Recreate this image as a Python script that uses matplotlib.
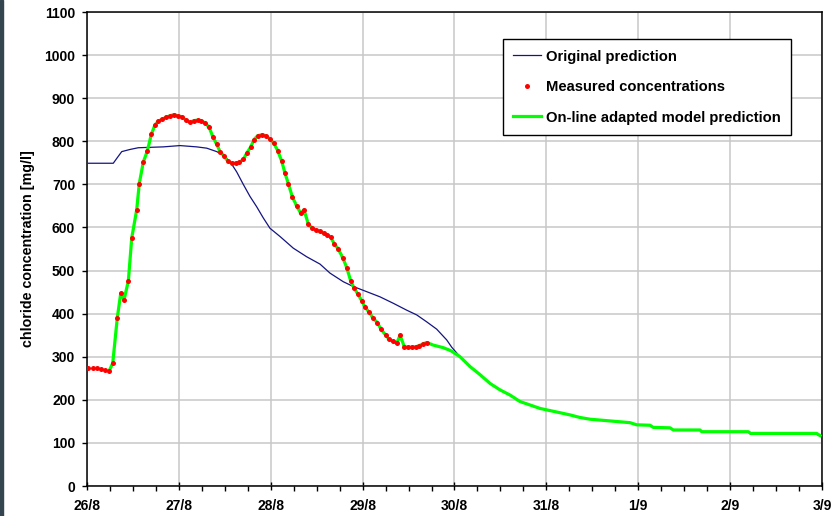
import matplotlib
matplotlib.use('Agg')
import matplotlib.pyplot as plt
from matplotlib.patches import Rectangle
import numpy as np

plt.rcParams['font.family'] = ['Liberation Sans', 'DejaVu Sans']
plt.rcParams['font.weight'] = 'bold'

# time in days since 26/8 00:00
meas_t = [0.014, 0.062, 0.106, 0.149, 0.196, 0.243, 0.280, 0.330, 0.367, 0.403,
          0.450, 0.487, 0.541, 0.569, 0.613, 0.656, 0.700, 0.740, 0.776, 0.820,
          0.860, 0.903, 0.947, 0.987, 1.031, 1.078, 1.121, 1.165, 1.205, 1.238,
          1.284, 1.331, 1.368, 1.412, 1.448, 1.491, 1.531, 1.575, 1.622, 1.658,
          1.701, 1.738, 1.782, 1.818, 1.858, 1.902, 1.948, 1.992, 2.035, 2.076,
          2.119, 2.155, 2.191, 2.235, 2.282, 2.326, 2.362, 2.410, 2.450, 2.494,
          2.537, 2.580, 2.616, 2.653, 2.692, 2.735, 2.783, 2.827, 2.870, 2.906,
          2.946, 2.990, 3.026, 3.073, 3.116, 3.160, 3.200, 3.251, 3.287, 3.327,
          3.371, 3.407, 3.454, 3.497, 3.541, 3.581, 3.617, 3.660, 3.697]
meas_c = [275, 275, 275, 272, 270, 268, 285, 391, 447, 432,
          476, 576, 641, 702, 752, 777, 816, 838, 847, 851,
          856, 859, 862, 859, 857, 849, 844, 848, 849, 848,
          843, 832, 811, 793, 776, 766, 754, 749, 749, 751,
          758, 772, 787, 804, 813, 815, 813, 805, 795, 778,
          754, 726, 702, 671, 650, 633, 641, 607, 599, 594,
          591, 586, 583, 577, 562, 550, 530, 507, 476, 460,
          446, 430, 415, 403, 389, 379, 364, 350, 341, 336,
          331, 350, 323, 322, 322, 323, 326, 330, 333]

# on-line adapted model: follows measurements, then forecast tail
tail_t = [3.769, 3.878, 3.960, 4.060, 4.170, 4.280, 4.387, 4.496, 4.605, 4.713,
          4.822, 4.931, 5.040, 5.150, 5.257, 5.366, 5.475, 5.584, 5.693, 5.801,
          5.910, 5.983, 6.128, 6.164, 6.346, 6.381, 6.672, 6.691, 7.198, 7.224,
          7.942, 7.978]
tail_c = [327, 321, 314, 300, 277, 258, 238, 223, 211, 196,
          188, 180, 175, 170, 165, 159, 155, 153, 151, 149,
          147, 142, 141, 136, 135, 130, 130, 126, 126, 122,
          122, 117]
adapt_t = meas_t[5:] + tail_t
adapt_c = meas_c[5:] + tail_c

orig_t = [0.014, 0.286, 0.323, 0.378, 0.468, 0.558, 0.830, 1.012, 1.194, 1.303,
          1.412, 1.484, 1.556, 1.629, 1.701, 1.774, 1.847, 1.919, 1.992, 2.101,
          2.245, 2.391, 2.536, 2.645, 2.790, 2.898, 3.044, 3.189, 3.334, 3.480,
          3.589, 3.697, 3.806, 3.915, 3.970, 4.060, 4.170, 4.280, 4.387, 4.496,
          4.605, 4.713, 4.822, 4.931, 5.040, 5.150, 5.257, 5.366, 5.475, 5.584,
          5.693, 5.801, 5.910, 5.983, 6.128, 6.164, 6.346, 6.381, 6.672, 6.691,
          7.198, 7.224, 7.942, 7.978]
orig_c = [749, 749, 760, 776, 781, 785, 787, 790, 787, 784,
          776, 768, 753, 729, 700, 672, 648, 622, 598, 579,
          552, 532, 515, 494, 474, 463, 451, 439, 424, 408,
          397, 381, 364, 339, 322, 300, 277, 258, 238, 223,
          211, 196, 188, 180, 175, 170, 165, 159, 155, 153,
          151, 149, 147, 142, 141, 136, 135, 130, 130, 125,
          125, 120, 120, 116]

day_labels = ['26/8', '27/8', '28/8', '29/8', '30/8', '31/8', '1/9', '2/9', '3/9']

fig = plt.figure(figsize=(8.33, 5.16), dpi=100)
ax = fig.add_axes([87/833, 30/516, 735/833, 474/516])

#left edge strip of the screenshot
fig.add_artist(Rectangle((0, 0), 3/833, 1, transform=fig.transFigure,
                         color='#34454f', zorder=0))

l1, = ax.plot(orig_t, orig_c, color='#141482', lw=0.9, zorder=3)
l3, = ax.plot(adapt_t, adapt_c, color='#00ff00', lw=2.3, zorder=4)
l2, = ax.plot(meas_t, meas_c, 'o', color='#ff0000', ms=3.6, mec='none', zorder=5)

ax.set_xlim(0, 8)
ax.set_ylim(0, 1100)
ax.set_xticks(range(9))
ax.set_xticklabels(day_labels)
ax.set_xticks(np.arange(0, 8.01, 0.25), minor=True)
ax.set_yticks(range(0, 1101, 100))
ax.grid(True, which='major', color='#c8c8c8', lw=1.1)
ax.set_axisbelow(True)

ax.tick_params(axis='x', which='major', direction='inout', length=6, width=1,
               pad=6, labelsize=10)
ax.tick_params(axis='x', which='minor', direction='out', length=3.5, width=1)
ax.tick_params(axis='y', direction='out', length=3.5, width=1, pad=5, labelsize=10)
for lab in ax.get_xticklabels() + ax.get_yticklabels():
    lab.set_fontweight('bold')
for s in ax.spines.values():
    s.set_linewidth(1.1)

ax.set_ylabel('chloride concentration [mg/l]', fontsize=10.3, fontweight='bold')
ax.yaxis.set_label_coords(-0.071, 0.5)

leg = ax.legend([l1, l2, l3],
                ['Original prediction', 'Measured concentrations',
                 'On-line adapted model prediction'],
                loc='upper right', bbox_to_anchor=(0.958, 0.943),
                fontsize=10.6, frameon=True, fancybox=False, framealpha=1,
                edgecolor='black', handlelength=1.85, handletextpad=0.35,
                labelspacing=1.12, borderpad=0.72, borderaxespad=0)
leg.get_frame().set_linewidth(1.0)
for t in leg.get_texts():
    t.set_fontweight('bold')

fig.savefig('out.png', dpi=100)
